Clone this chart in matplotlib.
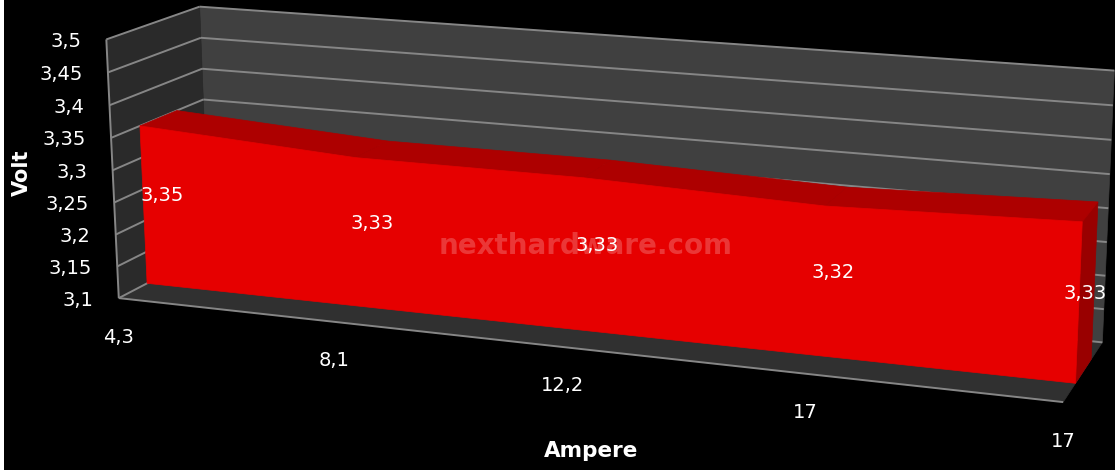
import numpy as np
import matplotlib
matplotlib.use("Agg")
import matplotlib.pyplot as plt
from matplotlib.patches import Polygon

categories = ["4,3", "8,1", "12,2", "17", "17"]
volts = [3.35, 3.33, 3.33, 3.32, 3.33]
volt_labels = ["3,35", "3,33", "3,33", "3,32", "3,33"]
y_ticks = [3.1, 3.15, 3.2, 3.25, 3.3, 3.35, 3.4, 3.45, 3.5]
y_tick_labels = ["3,1", "3,15", "3,2", "3,25", "3,3", "3,35", "3,4", "3,45", "3,5"]
y_min, y_max = 3.1, 3.5

# Perspective camera: world corners of the plot box (position, level, depth) and where they land
box_world = np.array([
    [0, 0, 0], [0, 1, 0], [0, 1, 1], [0, 0, 1],
    [1, 1, 1], [1, 0, 1], [1, 0, 0],
], dtype=float)
box_screen = np.array([
    [119, 297], [106, 40], [200, 6], [209, 252],
    [1114.3, 70.7], [1102.3, 341.7], [1063.3, 402.7],
], dtype=float)


def solve_camera(world, screen):
    rows, rhs = [], []
    for (x, y, z), (sx, sy) in zip(world, screen):
        rows.append([x, y, z, 1, 0, 0, 0, 0, -sx * x, -sx * y, -sx * z])
        rows.append([0, 0, 0, 0, x, y, z, 1, -sy * x, -sy * y, -sy * z])
        rhs += [sx, sy]
    p = np.linalg.lstsq(np.array(rows), np.array(rhs), rcond=None)[0]
    return np.append(p, 1.0).reshape(3, 4)


CAMERA = solve_camera(box_world, box_screen)


def project(pos, volt, depth):
    level = (volt - y_min) / (y_max - y_min)
    h = CAMERA @ np.array([pos, level, depth, 1.0])
    return h[:2] / h[2]


def face(ax, points, color, z):
    ax.add_patch(Polygon([project(*p) for p in points], closed=True,
                         facecolor=color, edgecolor=color, linewidth=0.5, zorder=z))


def seg(ax, a, b, color="#868686", lw=1.4, z=2):
    pa, pb = project(*a), project(*b)
    ax.plot([pa[0], pb[0]], [pa[1], pb[1]], color=color, lw=lw, zorder=z,
            solid_capstyle="butt")


fig = plt.figure(figsize=(11.15, 4.7), dpi=100, facecolor="white")
ax = fig.add_axes([4 / 1115, 0, 1111 / 1115, 1])
ax.set_xlim(4, 1115)
ax.set_ylim(470, 0)
ax.set_facecolor("black")
ax.axis("off")
ax.add_patch(plt.Rectangle((4, 0), 1111, 470, facecolor="black", zorder=0))

# Walls and floor
face(ax, [(0, y_min, 1), (1, y_min, 1), (1, y_max, 1), (0, y_max, 1)], "#404040", 1)
face(ax, [(0, y_min, 0), (0, y_min, 1), (0, y_max, 1), (0, y_max, 0)], "#2a2a2a", 1)
face(ax, [(0, y_min, 0), (1, y_min, 0), (1, y_min, 1), (0, y_min, 1)], "#303030", 1)

# Gridlines along the back and left walls, plus the axis edges
for v in y_ticks:
    seg(ax, (0, v, 0), (0, v, 1))
    seg(ax, (0, v, 1), (1, v, 1))
seg(ax, (0, y_min, 0), (0, y_max, 0))
seg(ax, (0, y_min, 0), (1, y_min, 0))

# Extruded area series
D0, D1 = 0.30, 0.70
n = len(volts)
pos = [i / (n - 1) for i in range(n)]
face(ax, [(1, y_min, D0), (1, y_min, D1), (1, volts[-1], D1), (1, volts[-1], D0)], "#990000", 3)
for i in range(n - 1):
    face(ax, [(pos[i], volts[i], D0), (pos[i + 1], volts[i + 1], D0),
              (pos[i + 1], volts[i + 1], D1), (pos[i], volts[i], D1)], "#ad0000", 3)
front = [(pos[i], y_min, D0) for i in (0, n - 1)][::-1] + [(p, v, D0) for p, v in zip(pos, volts)]
face(ax, front, "#e60000", 4)

text_style = dict(color="white", fontsize=14, family="DejaVu Sans")

# Watermark across the chart
ax.text(586, 246, "nexthardware.com", color="white", alpha=0.22, fontsize=20,
        fontweight="bold", ha="center", va="center", zorder=5, family="DejaVu Sans")

# Value labels on the front face
for p, v, lab, dx in zip(pos, volts, volt_labels, [19, 15, 14, 9, 6]):
    x, y = project(p, y_min + (v - y_min) * 0.56, D0)
    ax.text(x + dx, y, lab, ha="center", va="center", zorder=6, **text_style)

# Axis tick labels
for v, lab in zip(y_ticks, y_tick_labels):
    x, y = project(0, v, 0)
    ax.text(x - 25, y + 2, lab, ha="right", va="center", zorder=6, **text_style)
for p, lab in zip(pos, categories):
    x, y = project(p, y_min, 0)
    ax.text(x, y + 39, lab, ha="center", va="center", zorder=6, **text_style)

# Axis titles
ax.text(22, 173, "Volt", color="white", fontsize=15, fontweight="bold", rotation=90,
        ha="center", va="center", family="DejaVu Sans")
ax.text(591, 451, "Ampere", color="white", fontsize=15.5, fontweight="bold",
        ha="center", va="center", family="DejaVu Sans")

fig.savefig("out.png", dpi=100, facecolor=fig.get_facecolor())
